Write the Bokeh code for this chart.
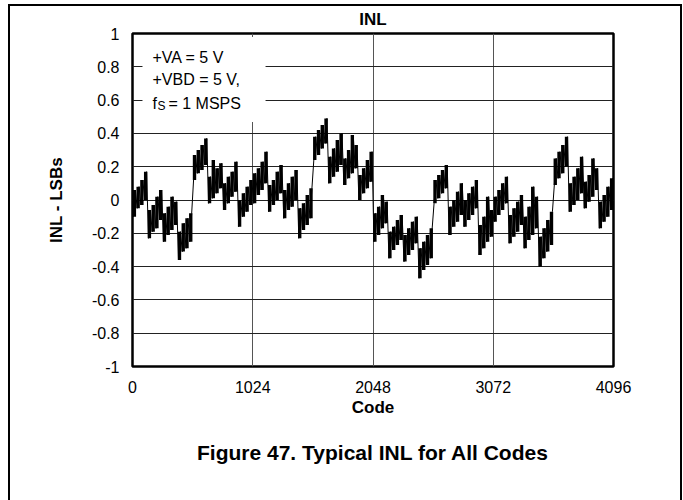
from bokeh.plotting import figure
from bokeh.models import FixedTicker, Label, Range1d, Title
from bokeh.embed import file_html
from bokeh.resources import INLINE

# ---- data ----
x_ticks = [0, 1024, 2048, 3072, 4096]
x_tick_labels = ["0", "1024", "2048", "3072", "4096"]
y_ticks = [-1, -0.8, -0.6, -0.4, -0.2, 0, 0.2, 0.4, 0.6, 0.8, 1]
y_tick_labels = ["-1", "-0.8", "-0.6", "-0.4", "-0.2", "0", "0.2", "0.4", "0.6", "0.8", "1"]

bin_width = 32  # codes per bin
# lower and upper excursion of INL (LSB) in each 32-code bin
inl_low = [
    -0.10, -0.05, -0.03, 0.00,
    -0.23, -0.19, -0.17, -0.12,
    -0.25, -0.21, -0.18, -0.15,
    -0.36, -0.31, -0.29, -0.25,
    0.12, 0.16, 0.18, 0.21,
    -0.02, 0.01, 0.04, 0.07,
    -0.06, -0.02, 0.02, 0.05,
    -0.16, -0.10, -0.07, -0.03,
    -0.02, 0.03, 0.06, 0.10,
    -0.07, -0.03, 0.00, 0.04,
    -0.11, -0.06, -0.04, 0.00,
    -0.23, -0.18, -0.15, -0.11,
    0.24, 0.27, 0.31, 0.34,
    0.10, 0.14, 0.17, 0.21,
    0.09, 0.13, 0.16, 0.19,
    0.00, 0.04, 0.07, 0.11,
    -0.25, -0.21, -0.17, -0.14,
    -0.35, -0.30, -0.27, -0.24,
    -0.37, -0.33, -0.30, -0.26,
    -0.47, -0.42, -0.39, -0.35,
    -0.02, 0.01, 0.04, 0.07,
    -0.21, -0.16, -0.13, -0.09,
    -0.16, -0.12, -0.09, -0.05,
    -0.33, -0.29, -0.25, -0.22,
    -0.13, -0.09, -0.06, -0.02,
    -0.26, -0.22, -0.19, -0.15,
    -0.29, -0.24, -0.21, -0.17,
    -0.40, -0.35, -0.31, -0.27,
    0.09, 0.13, 0.16, 0.20,
    -0.07, -0.03, 0.00, 0.04,
    -0.05, -0.01, 0.02, 0.06,
    -0.17, -0.13, -0.10, -0.06,
]
inl_high = [
    0.06, 0.08, 0.12, 0.17,
    -0.06, -0.03, 0.02, 0.06,
    -0.08, -0.04, 0.02, -0.01,
    -0.19, -0.14, -0.11, -0.08,
    0.27, 0.30, 0.33, 0.37,
    0.14, 0.24, 0.19, 0.22,
    0.10, 0.14, 0.17, 0.23,
    0.00, 0.04, 0.08, 0.12,
    0.16, 0.19, 0.23, 0.29,
    0.09, 0.12, 0.17, 0.21,
    0.06, 0.10, 0.14, 0.18,
    -0.05, -0.02, 0.03, 0.07,
    0.38, 0.42, 0.45, 0.49,
    0.26, 0.31, 0.36, 0.40,
    0.25, 0.30, 0.39, 0.33,
    0.15, 0.19, 0.24, 0.29,
    -0.08, -0.04, 0.03, -0.01,
    -0.19, -0.16, -0.12, -0.09,
    -0.21, -0.17, -0.13, -0.10,
    -0.29, -0.25, -0.21, -0.17,
    0.12, 0.15, 0.18, 0.21,
    -0.04, 0.00, 0.05, 0.10,
    0.00, 0.04, 0.08, 0.12,
    -0.15, -0.10, 0.02, -0.06,
    0.02, 0.06, 0.10, 0.14,
    -0.09, -0.05, -0.01, 0.03,
    -0.10, -0.04, 0.08, 0.02,
    -0.22, -0.17, -0.12, -0.07,
    0.25, 0.29, 0.33, 0.38,
    0.10, 0.14, 0.19, 0.26,
    0.11, 0.15, 0.25, 0.19,
    -0.01, 0.03, 0.08, 0.13,
]

title_text = "INL"
x_label = "Code"
y_label = "INL - LSBs"
caption = "Figure 47. Typical INL for All Codes"
cond_lines = ["+VA = 5 V", "+VBD = 5 V,"]

FONT = "Liberation Sans"

# bin positions and a trace alternating low / high excursion within each bin
bin_centers = [i * bin_width + bin_width / 2 for i in range(len(inl_low))]
xs, ys = [], []
for c, lo, hi in zip(bin_centers, inl_low, inl_high):
    xs += [c - bin_width / 4, c + bin_width / 4]
    ys += [lo, hi]

p = figure(width=670, height=494, x_range=Range1d(0, 4096), y_range=Range1d(-1, 1),
           output_backend="svg", toolbar_location=None,
           min_border_left=122, min_border_right=67, min_border_top=27, min_border_bottom=134)
p.styles = {"margin-left": "10px", "margin-top": "6px",
            "box-shadow": "-2px 0 0 0 #000, 2px 0 0 0 #000, 0 -2px 0 0 #000, -2px -2px 0 0 #000, 2px -2px 0 0 #000"}

p.title.text = title_text
p.title.align = "center"
p.title.vertical_align = "top"
p.title.text_font = FONT
p.title.text_font_size = "17px"
p.title.text_font_style = "bold"
p.title.text_color = "black"
p.title.standoff = 6

p.add_layout(Title(text=caption, align="center", text_font=FONT, text_font_size="21px",
                   text_font_style="bold", text_color="black", standoff=38), "below")

p.background_fill_color = "white"
p.border_fill_color = "white"
p.outline_line_color = "black"
p.outline_line_width = 2.5

for ax in (p.xaxis, p.yaxis):
    ax.axis_line_color = None
    ax.major_tick_line_color = None
    ax.minor_tick_line_color = None
    ax.major_label_text_font = FONT
    ax.major_label_text_font_size = "16px"
    ax.major_label_text_color = "black"
    ax.axis_label_text_font = FONT
    ax.axis_label_text_font_size = "17px"
    ax.axis_label_text_font_style = "bold"
    ax.axis_label_text_color = "black"

p.xaxis.ticker = FixedTicker(ticks=x_ticks)
p.xaxis.major_label_overrides = dict(zip(x_ticks, x_tick_labels))
p.yaxis.ticker = FixedTicker(ticks=y_ticks)
p.yaxis.major_label_overrides = dict(zip(y_ticks, y_tick_labels))
p.xaxis.axis_label = x_label
p.yaxis.axis_label = y_label
p.xaxis.major_label_standoff = 8
p.yaxis.major_label_standoff = 7
p.xaxis.axis_label_standoff = 2
p.yaxis.axis_label_standoff = 23

p.xgrid.ticker = FixedTicker(ticks=x_ticks)
p.ygrid.ticker = FixedTicker(ticks=y_ticks)
p.xgrid.grid_line_color = "#555555"
p.ygrid.grid_line_color = "#222222"
p.xgrid.grid_line_width = 1
p.ygrid.grid_line_width = 1

# white legend box covering the grid
p.quad(left=[85], right=[1133], bottom=[0.468], top=[0.979],
       fill_color="white", line_color=None)

# dense band of each bin plus the jagged trace
p.vbar(x=bin_centers, width=bin_width * 0.9, bottom=inl_low, top=inl_high,
       fill_color="black", line_color=None)
p.line(xs, ys, line_color="black", line_width=1)

# conditions text
for txt, yb in zip(cond_lines, [0.858, 0.726]):
    p.add_layout(Label(x=170, y=yb, text=txt, text_font=FONT, text_font_size="16px",
                       text_baseline="alphabetic", text_color="black"))
p.add_layout(Label(x=170, y=0.578, text="f", text_font=FONT, text_font_size="16px",
                   text_baseline="alphabetic", text_color="black"))
p.add_layout(Label(x=212, y=0.562, text="S", text_font=FONT, text_font_size="12px",
                   text_baseline="alphabetic", text_color="black"))
p.add_layout(Label(x=306, y=0.578, text="= 1 MSPS", text_font=FONT, text_font_size="16px",
                   text_baseline="alphabetic", text_color="black"))

open("out.html", "w").write(file_html(p, INLINE))
